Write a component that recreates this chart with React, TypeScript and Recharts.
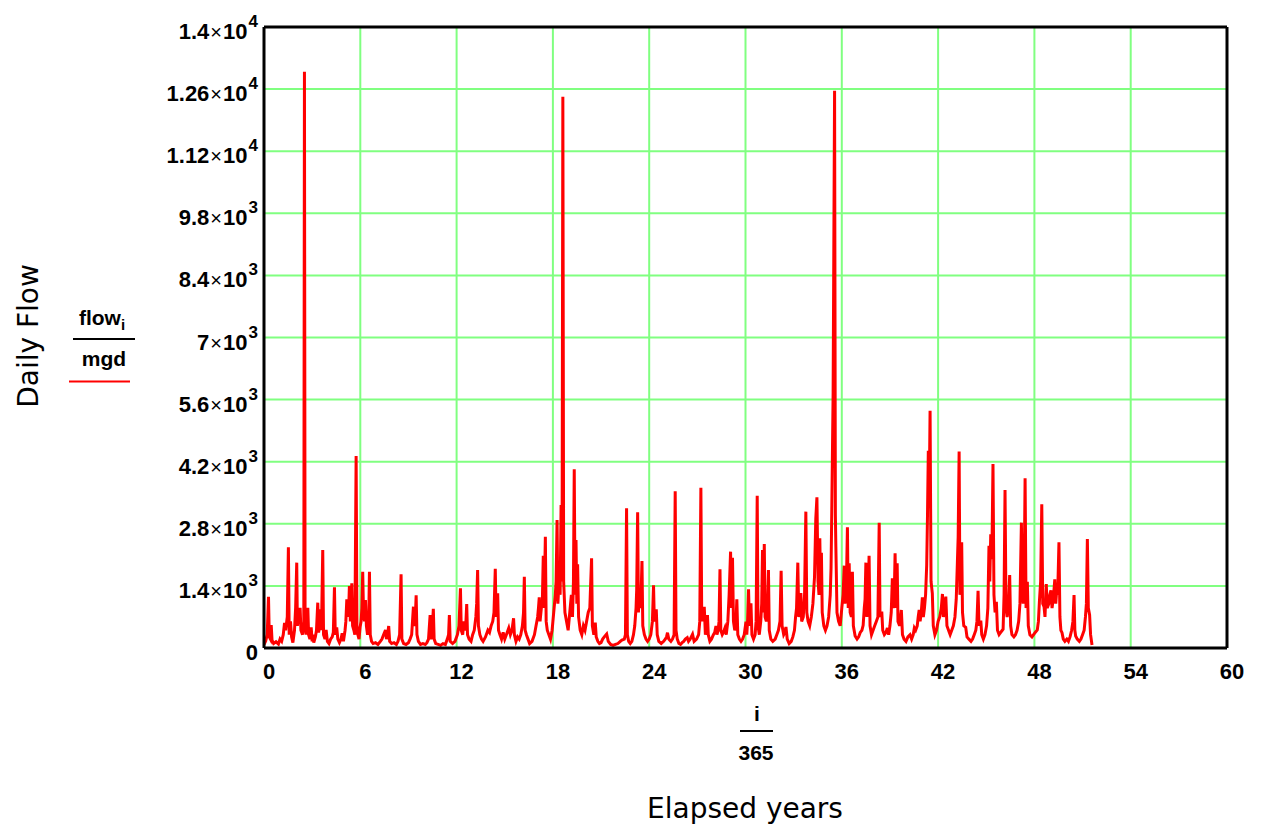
import React from 'react';
import { LineChart, Line, XAxis, YAxis, CartesianGrid, ReferenceLine } from 'recharts';

// axis ticks
const xTicks = [0, 6, 12, 18, 24, 30, 36, 42, 48, 54, 60];
const yTicks = [0, 1400, 2800, 4200, 5600, 7000, 8400, 9800, 11200, 12600, 14000];
const yMantissa = ['0', '1.4', '2.8', '4.2', '5.6', '7', '8.4', '9.8', '1.12', '1.26', '1.4'];
const yExponent = ['', '3', '3', '3', '3', '3', '3', '3', '4', '4', '4'];

// daily flow (mgd) against elapsed years
const flowYears0to10: [number, number][] = [
  [0, 80], [0.1, 150], [0.2, 300], [0.28, 1157], [0.33, 250], [0.4, 200], [0.45, 519], [0.5, 180],
  [0.6, 100], [0.75, 140], [0.9, 90], [1.0, 200], [1.1, 150], [1.2, 300], [1.28, 564], [1.35, 400],
  [1.45, 700], [1.52, 2271], [1.57, 300], [1.65, 600], [1.72, 250], [1.8, 120], [1.9, 400], [1.97, 900],
  [2.04, 1924], [2.08, 500], [2.15, 700], [2.25, 909], [2.3, 400], [2.4, 300], [2.48, 600], [2.52, 12990],
  [2.56, 500], [2.62, 300], [2.73, 909], [2.78, 300], [2.86, 200], [2.94, 467], [3.0, 150], [3.05, 300],
  [3.1, 120], [3.2, 250], [3.27, 400], [3.35, 1022], [3.4, 350], [3.47, 500], [3.52, 873], [3.58, 400],
  [3.66, 2210], [3.71, 300], [3.8, 200], [3.87, 406], [3.95, 150], [4.05, 100], [4.15, 200], [4.25, 250],
  [4.32, 350], [4.39, 1369], [4.44, 300], [4.53, 467], [4.6, 200], [4.7, 120], [4.8, 200], [4.87, 331],
  [4.95, 150], [5.05, 400], [5.1, 600], [5.16, 1098], [5.22, 700], [5.28, 900], [5.32, 1398], [5.38, 600],
  [5.47, 1459], [5.52, 500], [5.6, 400], [5.66, 300], [5.74, 4330], [5.79, 500], [5.85, 300], [5.92, 200],
  [5.99, 480], [6.05, 600], [6.1, 900], [6.15, 1721], [6.2, 800], [6.26, 600], [6.32, 1082], [6.38, 500],
  [6.45, 300], [6.52, 500], [6.57, 1721], [6.62, 300], [6.7, 150], [6.8, 100], [6.95, 120], [7.1, 80],
  [7.25, 150], [7.35, 200], [7.45, 300], [7.57, 406], [7.63, 200], [7.7, 300], [7.77, 496], [7.83, 150],
  [7.95, 100], [8.1, 120], [8.25, 80], [8.35, 150], [8.45, 300], [8.54, 1662], [8.59, 200], [8.7, 100],
  [8.85, 80], [9.0, 120], [9.1, 200], [9.2, 300], [9.31, 931], [9.36, 500], [9.42, 600], [9.48, 1188],
  [9.53, 300], [9.62, 150], [9.75, 80], [9.9, 100], [10.05, 80], [10.15, 120], [10.25, 200], [10.35, 744],
  [10.4, 200], [10.47, 300], [10.55, 886], [10.6, 200], [10.7, 100],
];

const flowYears10to20: [number, number][] = [
  [10.85, 80], [11.0, 60], [11.15, 100], [11.3, 80], [11.42, 200], [11.5, 300], [11.55, 744], [11.6, 150],
  [11.75, 100], [11.9, 150], [12.05, 300], [12.15, 500], [12.24, 1346], [12.29, 400], [12.38, 300], [12.45, 600],
  [12.5, 400], [12.57, 500], [12.63, 992], [12.68, 300], [12.78, 200], [12.9, 150], [13.0, 300], [13.1, 400],
  [13.2, 700], [13.25, 1000], [13.31, 1759], [13.36, 500], [13.45, 300], [13.55, 200], [13.65, 150], [13.8, 250],
  [13.95, 400], [14.05, 350], [14.15, 500], [14.25, 600], [14.33, 800], [14.41, 1788], [14.46, 700], [14.56, 1233],
  [14.61, 400], [14.7, 300], [14.8, 200], [14.9, 350], [15.0, 200], [15.1, 300], [15.25, 450], [15.35, 300],
  [15.45, 400], [15.55, 670], [15.6, 300], [15.7, 150], [15.8, 250], [15.9, 200], [16.0, 300], [16.1, 500],
  [16.17, 800], [16.22, 1608], [16.27, 400], [16.35, 300], [16.45, 200], [16.55, 100], [16.7, 150], [16.85, 300],
  [16.95, 500], [17.05, 700], [17.1, 900], [17.15, 1143], [17.2, 600], [17.28, 900], [17.34, 1000], [17.4, 2081],
  [17.45, 900], [17.53, 2510], [17.58, 600], [17.65, 400], [17.75, 300], [17.85, 200], [17.95, 400], [18.05, 800],
  [18.15, 1200], [18.2, 1500], [18.26, 2886], [18.31, 1000], [18.38, 1500], [18.45, 1200], [18.51, 3225], [18.57, 1500],
  [18.62, 12425], [18.67, 1500], [18.75, 800], [18.85, 600], [18.95, 400], [19.05, 800], [19.15, 1200], [19.22, 700],
  [19.28, 1500], [19.33, 4030], [19.38, 1200], [19.44, 2435], [19.49, 1000], [19.54, 1887], [19.6, 700], [19.7, 400],
  [19.8, 300], [19.9, 500], [20.0, 400], [20.1, 600], [20.2, 800], [20.3, 900], [20.41, 2023], [20.46, 500],
  [20.55, 300],
];

const flowYears20to30: [number, number][] = [
  [20.64, 570], [20.7, 250], [20.8, 150], [20.9, 100], [21.0, 120], [21.1, 200], [21.2, 250], [21.35, 316],
  [21.45, 150], [21.6, 80], [21.75, 60], [21.9, 80], [22.05, 100], [22.2, 150], [22.3, 180], [22.45, 200],
  [22.52, 300], [22.59, 3150], [22.64, 300], [22.72, 150], [22.82, 100], [22.92, 150], [23.02, 300], [23.1, 500],
  [23.18, 900], [23.22, 1300], [23.28, 3060], [23.33, 800], [23.38, 1330], [23.43, 900], [23.48, 1000], [23.55, 1962],
  [23.6, 500], [23.7, 300], [23.8, 200], [23.9, 150], [24.0, 200], [24.1, 300], [24.2, 600], [24.27, 1414],
  [24.32, 600], [24.38, 700], [24.44, 873], [24.5, 300], [24.6, 150], [24.75, 100], [24.9, 150], [25.0, 200],
  [25.08, 250], [25.14, 345], [25.22, 200], [25.35, 150], [25.45, 200], [25.55, 300], [25.62, 3534], [25.67, 400],
  [25.75, 200], [25.85, 100], [25.95, 80], [26.05, 120], [26.15, 150], [26.25, 200], [26.37, 232], [26.45, 150],
  [26.55, 200], [26.7, 309], [26.8, 150], [26.95, 200], [27.08, 300], [27.15, 600], [27.22, 3615], [27.27, 800],
  [27.33, 600], [27.43, 931], [27.5, 300], [27.57, 400], [27.63, 744], [27.68, 300], [27.78, 150], [27.88, 200],
  [28.0, 300], [28.08, 350], [28.16, 496], [28.22, 300], [28.3, 400], [28.35, 600], [28.41, 1775], [28.46, 400],
  [28.55, 300], [28.62, 350], [28.72, 451], [28.8, 300], [28.9, 600], [28.98, 1200], [29.07, 2172], [29.13, 900],
  [29.19, 2036], [29.25, 600], [29.33, 400], [29.4, 500], [29.46, 1098], [29.52, 300], [29.62, 200], [29.72, 150],
  [29.82, 200], [29.92, 300], [30.03, 593], [30.08, 300], [30.13, 600], [30.19, 1324], [30.25, 500], [30.34, 1008],
  [30.4, 300], [30.5, 200],
];

const flowYears30to41: [number, number][] = [
  [30.6, 300], [30.66, 600], [30.73, 3434], [30.78, 500], [30.86, 300], [30.95, 600], [31.01, 1000], [31.06, 2210],
  [31.11, 800], [31.17, 2345], [31.22, 700], [31.3, 600], [31.37, 900], [31.43, 1759], [31.48, 400], [31.58, 200],
  [31.7, 150], [31.85, 200], [31.95, 300], [32.05, 400], [32.15, 600], [32.22, 1743], [32.28, 500], [32.38, 300],
  [32.45, 350], [32.52, 474], [32.6, 200], [32.72, 100], [32.85, 150], [32.95, 250], [33.05, 400], [33.12, 700],
  [33.18, 900], [33.26, 1924], [33.32, 700], [33.39, 800], [33.45, 1240], [33.5, 600], [33.6, 700], [33.68, 1200],
  [33.76, 3074], [33.82, 800], [33.9, 600], [34.0, 500], [34.1, 700], [34.2, 1000], [34.3, 1600], [34.38, 2916],
  [34.45, 3398], [34.52, 1500], [34.58, 1200], [34.63, 2474], [34.68, 1300], [34.73, 2149], [34.78, 800], [34.88, 500],
  [34.98, 400], [35.08, 500], [35.18, 700], [35.28, 1200], [35.33, 1800], [35.38, 3225], [35.46, 5773], [35.55, 12560],
  [35.6, 3000], [35.63, 2284], [35.7, 800], [35.8, 600], [35.9, 500], [36.0, 900], [36.08, 1200], [36.15, 1856],
  [36.2, 1000], [36.28, 1300], [36.35, 2722], [36.4, 900], [36.46, 1910], [36.52, 800], [36.6, 700], [36.66, 1721],
  [36.72, 500], [36.83, 271], [36.95, 200], [37.05, 250], [37.15, 350], [37.25, 400], [37.33, 512], [37.4, 900],
  [37.45, 1100], [37.5, 1924], [37.56, 700], [37.63, 1000], [37.7, 2081], [37.76, 500], [37.85, 300], [37.95, 400],
  [38.05, 500], [38.15, 600], [38.25, 700], [38.33, 2826], [38.38, 700], [38.49, 819], [38.55, 400], [38.65, 300],
  [38.75, 350], [38.84, 451], [38.92, 300], [39.0, 500], [39.08, 800], [39.15, 1572], [39.2, 900], [39.27, 1200],
  [39.32, 2136], [39.38, 900], [39.45, 1910], [39.5, 600], [39.6, 500], [39.71, 857], [39.78, 300], [39.88, 200],
  [40.0, 150], [40.12, 250], [40.25, 300], [40.35, 200], [40.45, 300], [40.52, 451], [40.6, 400], [40.7, 500],
  [40.76, 700], [40.82, 857], [40.88, 600], [40.95, 800], [41.02, 1143], [41.08, 700], [41.15, 900], [41.22, 1200],
  [41.29, 1872], [41.34, 3000], [41.39, 4449], [41.45, 3500], [41.5, 5351], [41.56, 1500], [41.64, 1233], [41.7, 500],
];

const flowYears41to52: [number, number][] = [
  [41.8, 300], [41.9, 400], [42.0, 600], [42.1, 700], [42.2, 900], [42.27, 1218], [42.33, 700], [42.4, 900],
  [42.48, 1157], [42.55, 500], [42.65, 400], [42.75, 300], [42.85, 400], [42.95, 500], [43.05, 700], [43.13, 1100],
  [43.2, 1910], [43.25, 2500], [43.31, 4427], [43.36, 1200], [43.42, 1500], [43.47, 2384], [43.52, 800], [43.6, 500],
  [43.72, 467], [43.8, 250], [43.92, 200], [44.05, 150], [44.15, 200], [44.25, 300], [44.35, 400], [44.42, 600],
  [44.49, 1292], [44.55, 500], [44.66, 616], [44.72, 300], [44.82, 200], [44.92, 300], [45.02, 500], [45.1, 900],
  [45.17, 2307], [45.22, 1500], [45.28, 2564], [45.35, 2000], [45.42, 4149], [45.48, 1200], [45.55, 800], [45.63, 1044],
  [45.7, 400], [45.8, 300], [45.9, 350], [46.0, 400], [46.05, 422], [46.11, 1200], [46.17, 3563], [46.23, 900],
  [46.3, 700], [46.38, 900], [46.46, 1646], [46.52, 500], [46.6, 300], [46.72, 250], [46.82, 300], [46.92, 400],
  [47.02, 600], [47.1, 1000], [47.19, 2826], [47.25, 1200], [47.3, 1000], [47.36, 1500], [47.42, 3827], [47.48, 900],
  [47.56, 1495], [47.62, 500], [47.72, 300], [47.85, 250], [47.95, 300], [48.05, 350], [48.18, 406], [48.25, 600],
  [48.32, 1100], [48.39, 1500], [48.46, 3240], [48.52, 1000], [48.6, 931], [48.66, 700], [48.74, 1443], [48.8, 900],
  [48.9, 1000], [48.96, 1200], [49.03, 1301], [49.1, 900], [49.17, 1100], [49.22, 1300], [49.27, 1549], [49.33, 1000],
  [49.39, 1308], [49.45, 1200], [49.53, 2384], [49.59, 700], [49.65, 400], [49.72, 345], [49.8, 200], [49.9, 150],
  [50.02, 200], [50.12, 150], [50.22, 250], [50.32, 400], [50.4, 600], [50.47, 1195], [50.52, 400], [50.57, 271],
  [50.67, 200], [50.8, 150], [50.9, 200], [51.0, 300], [51.1, 400], [51.18, 700], [51.24, 1000], [51.3, 2458],
  [51.36, 900], [51.44, 744], [51.5, 300], [51.59, 68],
];

const flowData = [
  ...flowYears0to10,
  ...flowYears10to20,
  ...flowYears20to30,
  ...flowYears30to41,
  ...flowYears41to52,
].map(([t, q]) => ({ t, q }));

const numFont = '"Liberation Sans", Arial, sans-serif';
const wordFont = '"Comic Sans MS", "DejaVu Sans", sans-serif';

// y tick: mantissa x 10^exp, Mathcad style
const YTick = (props: any) => {
  const { x, y, payload } = props;
  const i = yTicks.indexOf(payload.value);
  const m = yMantissa[i];
  const e = yExponent[i];
  return (
    <text x={x} y={y + 12} textAnchor="end" fontFamily={numFont} fontWeight="bold" fontSize={22} fill="#000">
      <tspan>{m}</tspan>
      {e && <tspan fontWeight="normal" fontSize={20} dx={1}>×</tspan>}
      {e && <tspan dx={1}>10</tspan>}
      {e && <tspan fontSize={17} dy={-12} dx={1}>{e}</tspan>}
    </text>
  );
};

const XTick = (props: any) => {
  const { x, y, payload } = props;
  return (
    <text x={x + 5} y={y + 31} textAnchor="middle" fontFamily={numFont} fontWeight="bold" fontSize={22} fill="#000">
      {payload.value}
    </text>
  );
};

export default function App() {
  return (
    <div style={{ position: 'absolute', left: 0, top: 0, width: 1262, height: 833, background: '#fff' }}>
      <LineChart
        width={1262}
        height={833}
        data={flowData}
        margin={{ top: 27, right: 35, bottom: 0, left: 0 }}
      >
        <CartesianGrid stroke="#80ff80" strokeWidth={2} />
        <XAxis
          type="number"
          dataKey="t"
          domain={[0, 60]}
          ticks={xTicks}
          interval={0}
          height={185}
          tickSize={0}
          tickMargin={0}
          tick={XTick}
          axisLine={{ stroke: '#000', strokeWidth: 3 }}
          allowDataOverflow
        />
        <YAxis
          type="number"
          domain={[0, 14000]}
          ticks={yTicks}
          interval={0}
          width={264}
          tickSize={0}
          tickMargin={6}
          tick={YTick}
          axisLine={{ stroke: '#000', strokeWidth: 3 }}
          allowDataOverflow
        />
        <ReferenceLine y={14000} stroke="#000" strokeWidth={3} />
        <ReferenceLine x={60} stroke="#000" strokeWidth={3} />
        <Line
          type="linear"
          dataKey="q"
          stroke="#ff0000"
          strokeWidth={3}
          dot={false}
          isAnimationActive={false}
        />
      </LineChart>

      <svg
        width={1262}
        height={833}
        style={{ position: 'absolute', left: 0, top: 0, pointerEvents: 'none' }}
      >
        {/* y axis title and Mathcad expression */}
        <text
          x={28}
          y={336}
          transform="rotate(-90 28 336)"
          textAnchor="middle"
          dominantBaseline="central"
          fontFamily={wordFont}
          fontSize={28}
          fill="#000"
        >
          Daily Flow
        </text>
        <text x={102} y={325} textAnchor="middle" fontFamily={numFont} fontWeight="bold" fontSize={21} fill="#000">
          flow<tspan fontSize={15} dy={5}>i</tspan>
        </text>
        <line x1={73} x2={135} y1={339} y2={339} stroke="#000" strokeWidth={2} />
        <text x={104} y={366} textAnchor="middle" fontFamily={numFont} fontWeight="bold" fontSize={21} fill="#000">
          mgd
        </text>
        <line x1={69} x2={130} y1={381.5} y2={381.5} stroke="#ff0000" strokeWidth={2} />

        {/* x axis expression and title */}
        <text x={757} y={721} textAnchor="middle" fontFamily={numFont} fontWeight="bold" fontSize={21} fill="#000">
          i
        </text>
        <line x1={740} x2={773} y1={731} y2={731} stroke="#000" strokeWidth={2} />
        <text x={756} y={760} textAnchor="middle" fontFamily={numFont} fontWeight="bold" fontSize={21} fill="#000">
          365
        </text>
        <text x={745} y={818} textAnchor="middle" fontFamily={wordFont} fontSize={28} fill="#000">
          Elapsed years
        </text>
      </svg>
    </div>
  );
}
